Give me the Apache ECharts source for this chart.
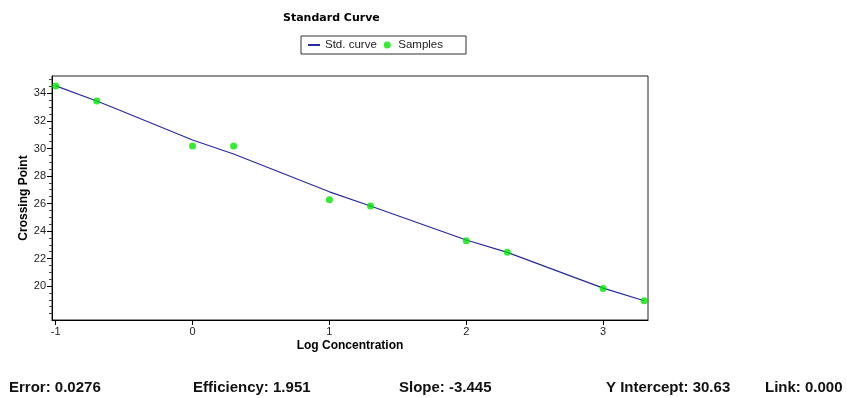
<!DOCTYPE html>
<html>
<head>
<meta charset="utf-8">
<script src="https://cdn.jsdelivr.net/npm/echarts@6/dist/echarts.min.js"></script>
<style>
html,body{margin:0;padding:0;background:#fff;}
#chart{width:847px;height:398px;}
</style>
</head>
<body>
<div id="chart"></div>
<script>
// ---- data ----
var curveX = [-1, -0.7, -0.55, 0, 0.3, 1, 1.3, 2, 2.3, 3, 3.3];
var curveY = [34.55, 33.45, 32.85, 30.62, 29.6, 26.85, 25.82, 23.35, 22.45, 19.85, 18.93];
var sampleX = [-1, -0.7, 0, 0.3, 1, 1.3, 2, 2.3, 3, 3.3];
var sampleY = [34.55, 33.45, 30.18, 30.18, 26.28, 25.82, 23.3, 22.45, 19.82, 18.93];
var xTicks = [-1, 0, 1, 2, 3];
var yTicks = [20, 22, 24, 26, 28, 30, 32, 34];
var yMinorTicks = [18, 18.5, 19, 19.5, 20.5, 21, 21.5, 22.5, 23, 23.5, 24.5, 25, 25.5, 26.5, 27, 27.5, 28.5, 29, 29.5, 30.5, 31, 31.5, 32.5, 33, 33.5, 34.5, 35];
var stats = ['Error: 0.0276', 'Efficiency: 1.951', 'Slope: -3.445', 'Y Intercept: 30.63', 'Link: 0.000'];

var statLeft = [9, 193, 399, 606, 765];
var curveData = curveX.map(function (x, i) { return [x, curveY[i]]; });
var sampleData = sampleX.map(function (x, i) { return [x, sampleY[i]]; });
var tickFont = 'Liberation Sans';

var titles = [{
  text: 'Standard Curve', left: 283, top: 13, padding: 0,
  textStyle: { fontFamily: 'DejaVu Sans', fontWeight: 'bold', fontSize: 11, color: '#000' }
}];
stats.forEach(function (s, i) {
  titles.push({
    text: s, left: statLeft[i], top: 380, padding: 0,
    textStyle: { fontFamily: 'Liberation Sans', fontWeight: 'bold', fontSize: 15, color: '#111' }
  });
});

var chart = echarts.init(document.getElementById('chart'), null, { renderer: 'canvas' });
chart.setOption({
  animation: false,
  backgroundColor: '#fff',
  title: titles,
  legend: {
    left: 301, top: 36,
    padding: [3, 23, 3, 6],
    itemGap: 7, itemWidth: 12, itemHeight: 7,
    borderColor: '#333', borderWidth: 1,
    textStyle: { fontFamily: 'Liberation Sans', fontSize: 11.5, color: '#222' },
    data: [{ name: 'Std. curve', itemStyle: { opacity: 0 } }, { name: 'Samples', icon: 'circle' }]
  },
  grid: { left: 52, top: 76, width: 596, height: 244, show: true, borderColor: '#222', borderWidth: 1 },
  xAxis: {
    type: 'value', min: -1.027, max: 3.328,
    name: 'Log Concentration', nameLocation: 'middle', nameGap: 20, nameMoveOverlap: false,
    nameTextStyle: { fontFamily: 'Liberation Sans', fontWeight: 'bold', fontSize: 12, color: '#000' },
    axisLine: { show: true, onZero: false, lineStyle: { color: '#000', width: 1 } },
    axisTick: { show: true, customValues: xTicks, length: 5, lineStyle: { color: '#000' } },
    axisLabel: { customValues: xTicks, margin: 6, fontFamily: tickFont, fontSize: 11, color: '#222' },
    splitLine: { show: false }
  },
  yAxis: [{
    type: 'value', min: 17.53, max: 35.27,
    name: 'Crossing Point', nameLocation: 'middle', nameGap: 22, nameMoveOverlap: false,
    nameTextStyle: { fontFamily: 'Liberation Sans', fontWeight: 'bold', fontSize: 12, color: '#000' },
    axisLine: { show: true, onZero: false, lineStyle: { color: '#000', width: 1 } },
    axisTick: { show: true, customValues: yTicks, length: 5, lineStyle: { color: '#000' } },
    axisLabel: { customValues: yTicks, margin: 6, fontFamily: tickFont, fontSize: 11, color: '#222' },
    splitLine: { show: false }
  }, {
    type: 'value', min: 17.53, max: 35.27, position: 'left', offset: 0,
    axisLine: { show: false, onZero: false },
    axisTick: { show: true, customValues: yMinorTicks, length: 3, lineStyle: { color: '#444' } },
    axisLabel: { show: false },
    splitLine: { show: false }
  }],
  series: [{
    name: 'Std. curve', type: 'line', data: curveData,
    symbol: 'none', smooth: false, z: 2,
    lineStyle: { color: '#2828a0', width: 1.2 },
    itemStyle: { color: '#2828a0' }
  }, {
    name: 'Samples', type: 'scatter', data: sampleData,
    symbol: 'circle', symbolSize: 7, z: 3,
    itemStyle: { color: '#00e600' }
  }]
});
</script>
</body>
</html>
